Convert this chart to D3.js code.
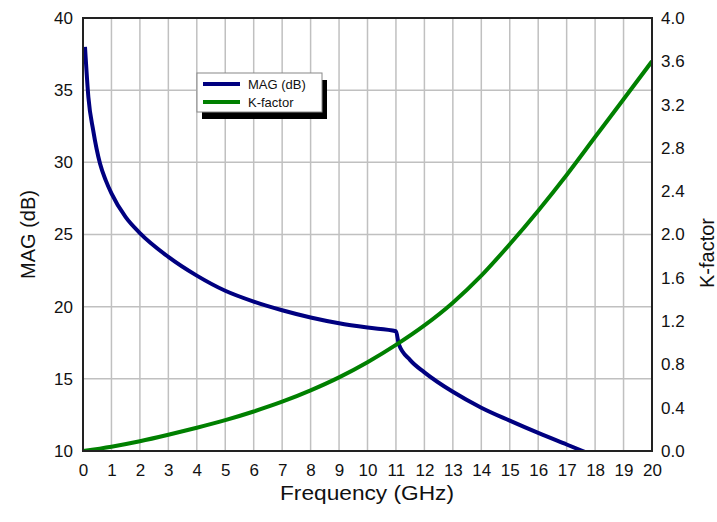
<!DOCTYPE html>
<html>
<head>
<meta charset="utf-8">
<script src="https://cdn.jsdelivr.net/npm/d3@7"></script>
<style>
  body { margin: 0; background: #fff; }
  svg text { font-family: "Liberation Sans", Arial, sans-serif; fill: #111; }
</style>
</head>
<body>
<svg width="717" height="522"></svg>
<script>
// MAG (dB)
const magFreq = [0.07, 0.19, 0.36, 0.6, 0.8, 1.0, 1.5, 2, 3, 4, 5, 6, 7, 8, 9, 10, 11.0, 11.1, 11.5, 12, 13, 14, 15, 16, 17, 18];
const magVals = [38.0, 34.5, 32.2, 29.9, 28.75, 27.85, 26.2, 25.1, 23.45, 22.15, 21.1, 20.35, 19.75, 19.25, 18.85, 18.55, 18.3, 17.4, 16.3, 15.45, 14.1, 13.0, 12.1, 11.25, 10.45, 9.65];
// K-factor
const kFreq = [0, 1, 2, 3, 4, 5, 6, 7, 8, 9, 10, 11, 12, 13, 14, 15, 16, 17, 18, 19, 20];
const kVals = [0, 0.04, 0.09, 0.15, 0.215, 0.285, 0.365, 0.455, 0.56, 0.68, 0.82, 0.98, 1.16, 1.37, 1.62, 1.91, 2.22, 2.55, 2.90, 3.25, 3.6];

const xTicks = d3.range(0, 21, 1);
const leftTicks = [10, 15, 20, 25, 30, 35, 40];
const rightTicks = d3.range(0, 11).map(i => i * 0.4);

const svg = d3.select("svg");
const mLeft = 83, mTop = 18, width = 569, height = 433;

const x = d3.scaleLinear().domain([0, 20]).range([mLeft, mLeft + width]);
const yL = d3.scaleLinear().domain([10, 40]).range([mTop + height, mTop]);
const yR = d3.scaleLinear().domain([0, 4]).range([mTop + height, mTop]);

svg.append("clipPath").attr("id", "plotclip")
    .append("rect").attr("x", mLeft).attr("y", mTop).attr("width", width).attr("height", height);

// grid
const grid = svg.append("g").attr("stroke", "#c0c0c0").attr("stroke-width", 1.5);
grid.selectAll(".vg").data(xTicks.slice(1, -1)).enter().append("line")
    .attr("x1", d => x(d)).attr("x2", d => x(d))
    .attr("y1", mTop).attr("y2", mTop + height);
grid.selectAll(".hg").data(leftTicks.slice(1, -1)).enter().append("line")
    .attr("x1", mLeft).attr("x2", mLeft + width)
    .attr("y1", d => yL(d)).attr("y2", d => yL(d));

// axes (labels only, frame drawn separately)
const xAxis = svg.append("g").attr("transform", `translate(0,${mTop + height})`)
    .call(d3.axisBottom(x).tickValues(xTicks).tickSize(0).tickPadding(13).tickFormat(d3.format("d")));
const lAxis = svg.append("g").attr("transform", `translate(${mLeft},0)`)
    .call(d3.axisLeft(yL).tickValues(leftTicks).tickSize(0).tickPadding(10));
const rAxis = svg.append("g").attr("transform", `translate(${mLeft + width},0)`)
    .call(d3.axisRight(yR).tickValues(rightTicks).tickSize(0).tickPadding(9).tickFormat(d3.format(".1f")));
[xAxis, lAxis, rAxis].forEach(a => {
    a.select(".domain").remove();
    a.selectAll("text").attr("font-size", "17px").attr("fill", "#111")
        .attr("font-family", "Liberation Sans, Arial, sans-serif");
});

// lines
const magLine = d3.line().x(d => x(d[0])).y(d => yL(d[1])).curve(d3.curveMonotoneX);
const kLine = d3.line().x(d => x(d[0])).y(d => yR(d[1])).curve(d3.curveMonotoneX);

const plot = svg.append("g").attr("clip-path", "url(#plotclip)");
plot.append("path")
    .datum(magFreq.map((f, i) => [f, magVals[i]]))
    .attr("d", magLine)
    .attr("fill", "none").attr("stroke", "#000080").attr("stroke-width", 4)
    .attr("stroke-linejoin", "round");
plot.append("path")
    .datum(kFreq.map((f, i) => [f, kVals[i]]))
    .attr("d", kLine)
    .attr("fill", "none").attr("stroke", "#008000").attr("stroke-width", 4)
    .attr("stroke-linejoin", "round");

// frame
svg.append("rect")
    .attr("x", mLeft).attr("y", mTop).attr("width", width).attr("height", height)
    .attr("fill", "none").attr("stroke", "#222").attr("stroke-width", 2);

// axis titles
svg.append("text")
    .attr("transform", `translate(35,${mTop + height / 2}) rotate(-90)`)
    .attr("text-anchor", "middle").attr("font-size", "20px")
    .text("MAG (dB)");
svg.append("text")
    .attr("transform", `translate(714,253) rotate(-90)`)
    .attr("text-anchor", "middle").attr("font-size", "20px")
    .text("K-factor");
svg.append("text")
    .attr("x", 367).attr("y", 500)
    .attr("text-anchor", "middle").attr("font-size", "21px")
    .attr("textLength", 174).attr("lengthAdjust", "spacingAndGlyphs")
    .text("Frequency (GHz)");

// legend
const legend = [{label: "MAG (dB)", color: "#000080"}, {label: "K-factor", color: "#008000"}];
const lg = svg.append("g").attr("transform", "translate(197,73)");
lg.append("rect").attr("x", 5).attr("y", 7).attr("width", 125).attr("height", 39).attr("fill", "#000");
lg.append("rect").attr("x", 0).attr("y", 0).attr("width", 125).attr("height", 39)
    .attr("fill", "#fff").attr("stroke", "#888").attr("stroke-width", 1);
const items = lg.selectAll(".item").data(legend).enter().append("g")
    .attr("transform", (d, i) => `translate(0,${11 + i * 18})`);
items.append("line").attr("x1", 6).attr("x2", 43).attr("y1", 0).attr("y2", 0)
    .attr("stroke", d => d.color).attr("stroke-width", 4);
items.append("text").attr("x", 51).attr("y", 4.5).attr("font-size", "13px").text(d => d.label);
</script>
</body>
</html>
